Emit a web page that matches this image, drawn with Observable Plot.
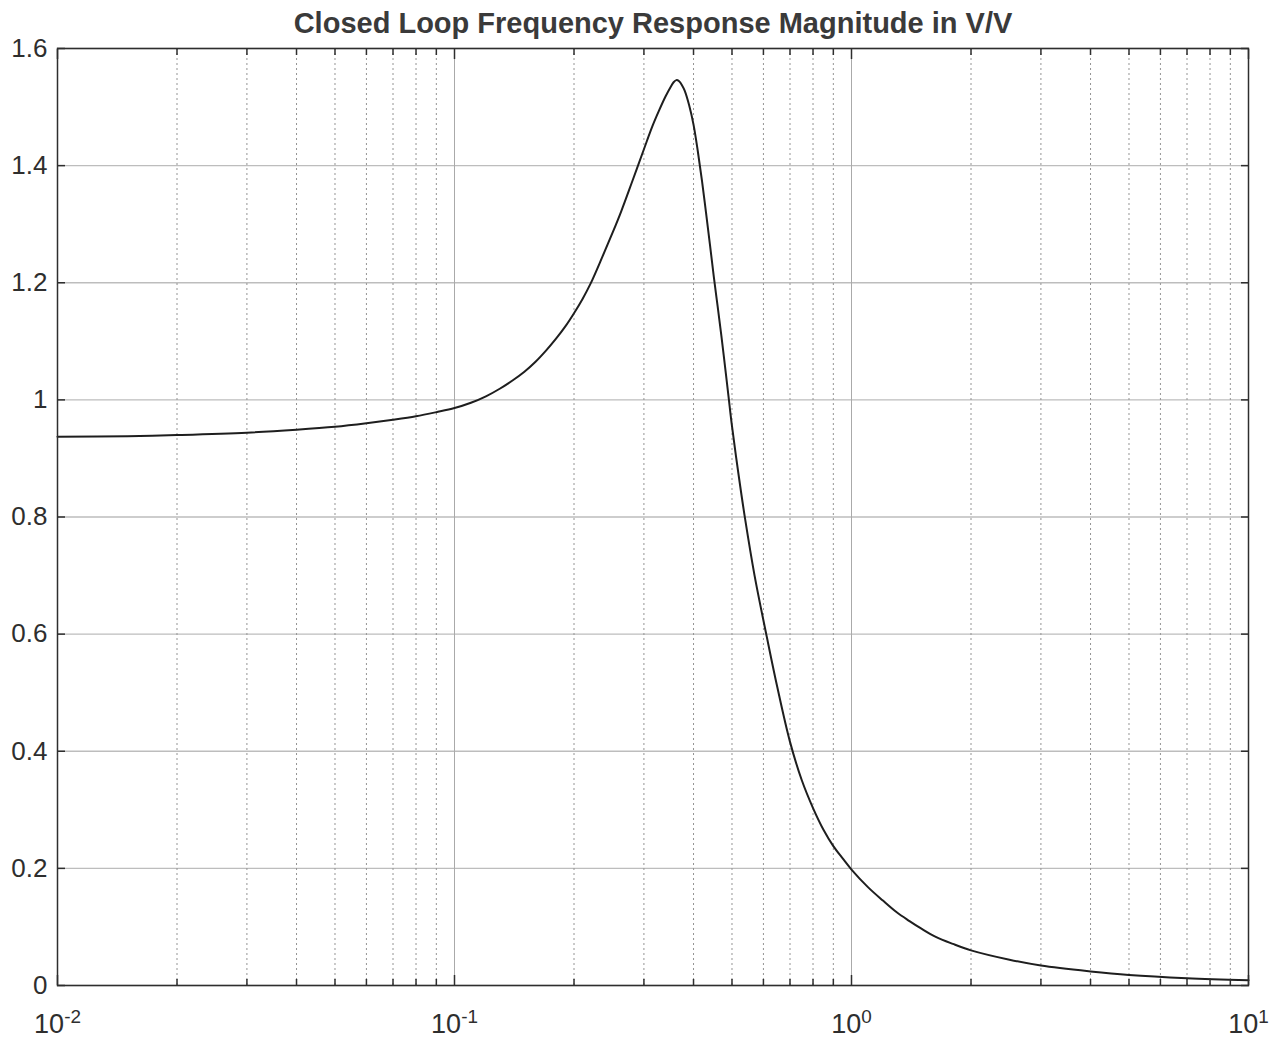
<!DOCTYPE html>
<html>
<head>
<meta charset="utf-8">
<script src="https://cdn.jsdelivr.net/npm/d3@7"></script>
<script src="https://cdn.jsdelivr.net/npm/@observablehq/plot@0.6"></script>
<style>
  html, body { margin: 0; padding: 0; background: #fff; }
  #chart svg { display: block; }
</style>
</head>
<body>
<div id="chart"></div>
<script>
const titleText = "Closed Loop Frequency Response Magnitude in V/V";

// frequency (log axis) and magnitude in V/V
const freq = [0.01, 0.015, 0.02, 0.03, 0.04, 0.05, 0.06, 0.07, 0.08, 0.09,
  0.1, 0.11, 0.12, 0.13, 0.14, 0.15, 0.16, 0.17, 0.18, 0.19,
  0.2, 0.21, 0.22, 0.236, 0.25, 0.263, 0.28, 0.3, 0.315, 0.327, 0.34, 0.35, 0.356, 0.362, 0.368, 0.375,
  0.38, 0.39, 0.4, 0.41, 0.42, 0.43, 0.44, 0.45, 0.46, 0.47, 0.48, 0.49, 0.5, 0.52, 0.54, 0.57, 0.612, 0.65,
  0.7, 0.75, 0.8, 0.85, 0.9, 0.95, 1.0, 1.1, 1.2, 1.3, 1.4, 1.5, 1.63, 1.8, 2, 2.5, 3, 4, 5, 7, 10];
const mag = [0.937, 0.938, 0.94, 0.944, 0.949, 0.954, 0.96, 0.966, 0.972, 0.979,
  0.986, 0.995, 1.006, 1.019, 1.033, 1.048, 1.065, 1.084, 1.104, 1.125,
  1.148, 1.172, 1.198, 1.245, 1.285, 1.322, 1.372, 1.428, 1.467, 1.493, 1.518, 1.534, 1.542, 1.546, 1.544, 1.536,
  1.528, 1.503, 1.47, 1.425, 1.375, 1.32, 1.265, 1.21, 1.16, 1.11, 1.058, 1.006, 0.955, 0.87, 0.795, 0.7, 0.595, 0.51,
  0.416, 0.35, 0.303, 0.266, 0.238, 0.217, 0.198, 0.168, 0.145, 0.125, 0.11, 0.097, 0.083, 0.071, 0.06, 0.044, 0.034, 0.024, 0.018, 0.0125, 0.009];

const xMajor = [0.01, 0.1, 1, 10];
const xMinor = [0.02, 0.03, 0.04, 0.05, 0.06, 0.07, 0.08, 0.09,
                0.2, 0.3, 0.4, 0.5, 0.6, 0.7, 0.8, 0.9,
                2, 3, 4, 5, 6, 7, 8, 9];
const yTicks = [0, 0.2, 0.4, 0.6, 0.8, 1.0, 1.2, 1.4, 1.6];

const data = freq.map((f, i) => ({f, m: mag[i]}));
const ink = "#2e2e2e";

const tickOnly = (opts) => ({label: null, fill: "none", stroke: ink, strokeWidth: 1.5, ...opts});

const svg = Plot.plot({
  width: 1282,
  height: 1042,
  marginLeft: 57,
  marginRight: 34,
  marginTop: 48,
  marginBottom: 57,
  style: {fontFamily: "'Liberation Sans', Arial, sans-serif", color: ink, background: "#fff"},
  x: {type: "log", domain: [0.01, 10], label: null},
  y: {domain: [0, 1.6], label: null},
  marks: [
    Plot.ruleY(yTicks, {stroke: "#bdbdbd", strokeWidth: 1.4}),
    Plot.ruleX(xMinor, {stroke: "#949494", strokeWidth: 1, strokeDasharray: "2,3"}),
    Plot.ruleX([0.1, 1], {stroke: "#aaaaaa", strokeWidth: 1}),
    Plot.line(data, {x: "f", y: "m", curve: "catmull-rom", stroke: "#1e1e1e", strokeWidth: 2}),
    Plot.frame({stroke: ink, strokeWidth: 1.5}),
    // inward tick marks
    Plot.axisY(tickOnly({anchor: "left", ticks: yTicks, tickSize: -8})),
    Plot.axisY(tickOnly({anchor: "right", ticks: yTicks, tickSize: -8})),
    Plot.axisX(tickOnly({anchor: "bottom", ticks: xMajor, tickSize: -10})),
    Plot.axisX(tickOnly({anchor: "bottom", ticks: xMinor, tickSize: -6})),
    Plot.axisX(tickOnly({anchor: "top", ticks: xMajor, tickSize: -10})),
    Plot.axisX(tickOnly({anchor: "top", ticks: xMinor, tickSize: -6})),
    // tick labels
    Plot.axisY({anchor: "left", ticks: yTicks, tickSize: 0, tickPadding: 10, fontSize: 26, label: null,
      tickFormat: d => String(+d.toFixed(1)), fill: ink}),
    Plot.axisX({anchor: "bottom", ticks: xMajor, tickSize: 0, tickPadding: 28, fontSize: 27, label: null,
      tickFormat: d => String(Math.round(Math.log10(d))), fill: ink}),
    Plot.text([titleText], {frameAnchor: "top", dy: -25, lineAnchor: "middle", fontSize: 29,
      fontWeight: "bold", fill: "#3a3a3a"})
  ]
});

// render x tick labels as 10 with a superscript exponent
d3.select(svg).selectAll('[aria-label="x-axis tick label"] text').each(function() {
  const t = d3.select(this);
  const exp = t.text();
  t.text(null);
  t.append("tspan").text("10");
  t.append("tspan").attr("dy", "-0.5em").attr("font-size", "0.7em").text(exp);
});

document.getElementById("chart").appendChild(svg);
</script>
</body>
</html>
